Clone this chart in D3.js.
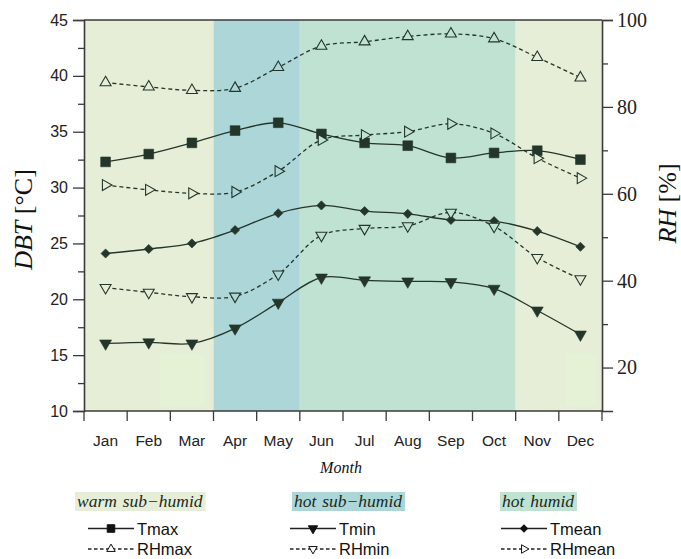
<!DOCTYPE html>
<html>
<head>
<meta charset="utf-8">
<script src="https://cdn.jsdelivr.net/npm/d3@7/dist/d3.min.js"></script>
<style>
  html, body { margin: 0; padding: 0; background: #fff; }
  svg { display: block; }
</style>
</head>
<body>
<svg id="chart" width="681" height="559"></svg>
<script>
// Monthly climate data: dry-bulb temperature (°C) and relative humidity (%)
const months = ["Jan","Feb","Mar","Apr","May","Jun","Jul","Aug","Sep","Oct","Nov","Dec"];
const tmax   = [32.3, 33.0, 34.0, 35.1, 35.8, 34.8, 34.0, 33.75, 32.65, 33.1, 33.3, 32.5];
const tmean  = [24.1, 24.5, 25.0, 26.2, 27.7, 28.4, 27.9, 27.65, 27.1, 27.0, 26.1, 24.7];
const tmin   = [16.05, 16.15, 16.05, 17.4, 19.7, 21.95, 21.7, 21.6, 21.55, 20.95, 19.0, 16.85];
const rhmax  = [85.6, 84.6, 83.8, 84.3, 89.1, 94.0, 95.0, 96.2, 96.8, 95.7, 91.4, 86.7];
const rhmean = [62.0, 60.9, 60.1, 60.4, 65.2, 72.4, 73.5, 74.3, 76.1, 73.9, 68.2, 63.6];
const rhmin  = [38.4, 37.3, 36.3, 36.4, 41.5, 50.4, 52.0, 52.6, 55.7, 52.5, 45.3, 40.4];

// Climate zones spanning month ranges [start, end)
const zoneNames  = ["warm sub\u2212humid", "hot sub\u2212humid", "hot humid"];
const zoneColors = ["#e7eed8", "#acd6d7", "#bfe2d3"];
const zoneSpans  = [[0, 3, 0], [3, 5, 1], [5, 10, 2], [10, 12, 0]];

const leftTicks  = [10, 15, 20, 25, 30, 35, 40, 45];
const leftMinor  = [12.5, 17.5, 22.5, 27.5, 32.5, 37.5, 42.5];
const rightTicks = [20, 40, 60, 80, 100];
const rightMinor = [30, 50, 70, 90];

const svg = d3.select("#chart");
const L = 84, R = 602, T = 20, B = 411;
const ink = "#24352a";
const axisInk = "#3a3a3a";

const x  = d3.scaleBand().domain(months).range([L, R]).padding(0);
const yL = d3.scaleLinear().domain([10, 45]).range([B, T]);
const yR = d3.scaleLinear().domain([10, 100]).range([B, T]);
const cx = m => x(m) + x.bandwidth() / 2;

function zoneOf(i) {
  for (const s of zoneSpans) if (i >= s[0] && i < s[1]) return s[2];
  return 0;
}

// Background climate bands
svg.append("g").selectAll("rect").data(zoneSpans).join("rect")
  .attr("x", d => x(months[d[0]]))
  .attr("y", T)
  .attr("width", d => (d[1] < 12 ? x(months[d[1]]) : R) - x(months[d[0]]))
  .attr("height", B - T)
  .attr("fill", d => zoneColors[d[2]]);

// Faint lighter patches near the bottom of the plot: [month, start fraction, end fraction]
const patches = [["Feb", 0.75, 1.8], ["Dec", 0.16, 0.86]];
svg.append("g").selectAll("rect").data(patches).join("rect")
  .attr("x", d => x(d[0]) + x.bandwidth() * d[1])
  .attr("y", yL(15.1))
  .attr("width", d => x.bandwidth() * (d[2] - d[1]))
  .attr("height", yL(10.5) - yL(15.1))
  .attr("fill", "#e4f2d5")
  .attr("opacity", 0.9);

// Series definitions
const series = [
  { name: "Tmax",   vals: tmax,   scale: yL, dash: null,  sym: d3.symbolSquare,   size: 95, rot: 0,   filled: true },
  { name: "Tmean",  vals: tmean,  scale: yL, dash: null,  sym: d3.symbolSquare,   size: 42, rot: 45,  filled: true },
  { name: "Tmin",   vals: tmin,   scale: yL, dash: null,  sym: d3.symbolTriangle, size: 62, rot: 180, filled: true },
  { name: "RHmax",  vals: rhmax,  scale: yR, dash: "4,3", sym: d3.symbolTriangle, size: 52, rot: 0,   filled: false },
  { name: "RHmean", vals: rhmean, scale: yR, dash: "4,3", sym: d3.symbolTriangle, size: 52, rot: 90,  filled: false },
  { name: "RHmin",  vals: rhmin,  scale: yR, dash: "4,3", sym: d3.symbolTriangle, size: 52, rot: 180, filled: false }
];

const line = (sc) => d3.line()
  .x((d, i) => cx(months[i]))
  .y(d => sc(d))
  .curve(d3.curveCatmullRom.alpha(0.5));

const gLines = svg.append("g");
series.forEach(s => {
  gLines.append("path")
    .datum(s.vals)
    .attr("d", line(s.scale))
    .attr("fill", "none")
    .attr("stroke", ink)
    .attr("stroke-width", 1.3)
    .attr("stroke-dasharray", s.dash);
});

const gMarks = svg.append("g");
series.forEach(s => {
  gMarks.append("g").selectAll("path").data(s.vals).join("path")
    .attr("d", d3.symbol().type(s.sym).size(s.size))
    .attr("transform", (d, i) => `translate(${cx(months[i])},${s.scale(d)}) rotate(${s.rot})`)
    .attr("fill", (d, i) => s.filled ? ink : zoneColors[zoneOf(i)])
    .attr("stroke", ink)
    .attr("stroke-width", s.filled ? 0.6 : 1.1);
});

// Frame: top border
svg.append("line")
  .attr("x1", L).attr("x2", R).attr("y1", T).attr("y2", T)
  .attr("stroke", axisInk).attr("stroke-width", 1.6);

// Left axis
const gL = svg.append("g").attr("transform", `translate(${L},0)`);
gL.call(d3.axisLeft(yL).tickValues(leftTicks).tickSize(11).tickPadding(5).tickFormat(d3.format("d")));
gL.append("g").call(d3.axisLeft(yL).tickValues(leftMinor).tickSize(6).tickFormat(""))
  .select(".domain").remove();
gL.selectAll("text").attr("font-family", "'Liberation Sans', Arial, sans-serif").attr("font-size", 16).attr("fill", "#222");

// Right axis
const gR = svg.append("g").attr("transform", `translate(${R},0)`);
gR.call(d3.axisRight(yR).tickValues(rightTicks).tickSize(11).tickPadding(4).tickFormat(d3.format("d")));
gR.append("g").call(d3.axisRight(yR).tickValues(rightMinor).tickSize(6).tickFormat(""))
  .select(".domain").remove();
gR.selectAll("text").attr("font-family", "'Liberation Serif', 'Times New Roman', serif").attr("font-size", 20).attr("fill", "#222");

// Bottom axis: ticks on month boundaries, labels centred in each month
const gB = svg.append("g").attr("transform", `translate(0,${B})`);
gB.append("line").attr("x1", L).attr("x2", R).attr("stroke", axisInk).attr("stroke-width", 1.6);
const bounds = months.map(m => x(m)).concat([R]);
gB.selectAll("line.tick").data(bounds).join("line")
  .attr("class", "tick")
  .attr("x1", d => d).attr("x2", d => d)
  .attr("y1", 0).attr("y2", 10)
  .attr("stroke", axisInk).attr("stroke-width", 1.3);
gB.selectAll("text").data(months).join("text")
  .attr("x", d => cx(d))
  .attr("y", 35)
  .attr("text-anchor", "middle")
  .attr("font-family", "'Liberation Sans', Arial, sans-serif")
  .attr("font-size", 15.5)
  .attr("fill", "#222")
  .text(d => d);

[gL, gR].forEach(g => {
  g.selectAll(".domain").attr("stroke", axisInk).attr("stroke-width", 1.6);
  g.selectAll(".tick line").attr("stroke", axisInk).attr("stroke-width", 1.3);
});

// Axis titles
const serif = "'Liberation Serif', 'Times New Roman', serif";
const yTitle = svg.append("text")
  .attr("transform", `translate(32,${(T + B) / 2 + 4}) rotate(-90)`)
  .attr("text-anchor", "middle")
  .attr("font-family", serif).attr("font-size", 26).attr("fill", "#111");
yTitle.append("tspan").attr("font-style", "italic").text("DBT");
yTitle.append("tspan").text(" [°C]");

const rTitle = svg.append("text")
  .attr("transform", `translate(676,${(T + B) / 2 - 12}) rotate(-90)`)
  .attr("text-anchor", "middle")
  .attr("font-family", serif).attr("font-size", 26).attr("fill", "#111");
rTitle.append("tspan").attr("font-style", "italic").text("RH");
rTitle.append("tspan").text(" [%]");

svg.append("text")
  .attr("x", (L + R) / 2 - 2).attr("y", 473)
  .attr("text-anchor", "middle")
  .attr("font-family", serif).attr("font-style", "italic").attr("font-size", 16).attr("fill", "#111")
  .text("Month");

// Legend: one column per climate zone with two series below it
const legendCols = [
  { zone: 0, boxX: 75,  lineX: 88,  items: [series[0], series[3]] },
  { zone: 1, boxX: 292, lineX: 290, items: [series[2], series[5]] },
  { zone: 2, boxX: 500, lineX: 501, items: [series[1], series[4]] }
];
legendCols.forEach(c => {
  const g = svg.append("g");
  const box = g.append("rect").attr("x", c.boxX).attr("y", 492).attr("height", 19).attr("fill", zoneColors[c.zone]);
  const t = g.append("text")
    .attr("x", c.boxX + 2).attr("y", 507)
    .attr("font-family", serif).attr("font-style", "italic").attr("font-size", 17.5).attr("fill", "#1a2a20")
    .attr("word-spacing", 1.5)
    .text(zoneNames[c.zone]);
  box.attr("width", t.node().getComputedTextLength() + 5);

  c.items.forEach((s, k) => {
    const yy = 528.5 + k * 20.5;
    g.append("line")
      .attr("x1", c.lineX).attr("x2", c.lineX + 46).attr("y1", yy).attr("y2", yy)
      .attr("stroke", "#222").attr("stroke-width", 1.3)
      .attr("stroke-dasharray", s.dash ? "3.5,2.5" : null);
    g.append("path")
      .attr("d", d3.symbol().type(s.sym).size(s.size * 0.6))
      .attr("transform", `translate(${c.lineX + 23},${yy}) rotate(${s.rot})`)
      .attr("fill", s.filled ? "#111" : "#fff")
      .attr("stroke", "#111").attr("stroke-width", 1);
    g.append("text")
      .attr("x", c.lineX + 49).attr("y", yy + 6)
      .attr("font-family", "'Liberation Sans', Arial, sans-serif").attr("font-size", 16.5).attr("fill", "#111")
      .text(s.name);
  });
});
</script>
</body>
</html>
